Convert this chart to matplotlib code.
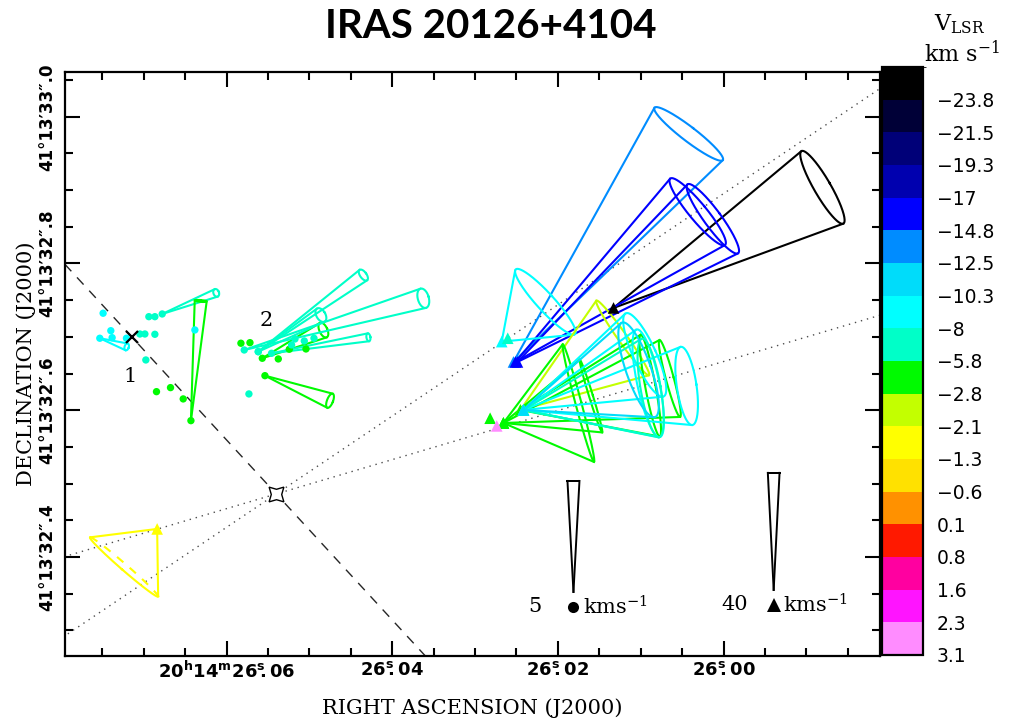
import numpy as np
import matplotlib
matplotlib.use("Agg")
import matplotlib.pyplot as plt
from matplotlib.colors import ListedColormap, BoundaryNorm
from matplotlib.cm import ScalarMappable

plt.rcParams['mathtext.fontset'] = 'custom'
plt.rcParams['mathtext.rm'] = 'DejaVu Serif'
plt.rcParams['mathtext.it'] = 'DejaVu Serif:italic'
plt.rcParams['mathtext.bf'] = 'DejaVu Sans:bold'

# offsets in mas: x east of RA 20h14m26.00s, y north of Dec 41d13'32.4"
MAS_PER_SEC = 11283.0   # 1 s of RA at this Dec

# colour scale (V_LSR, km/s)
vlsr_bounds = [-26.0, -23.8, -21.5, -19.3, -17, -14.8, -12.5, -10.3, -8, -5.8,
               -2.8, -2.1, -1.3, -0.6, 0.1, 0.8, 1.6, 2.3, 3.1]
vlsr_colors = ['#000000', '#000037', '#000078', '#0000af', '#0000ff', '#008cff',
               '#00dcfa', '#00ffff', '#00ffc8', '#00fa00', '#c3ff00', '#ffff00',
               '#ffe100', '#ff9100', '#ff1900', '#ff00a0', '#ff14ff', '#ff8cff']

# water maser spots (circles); proper motion ve, vn, vz and cone radius dv in km/s
h2o_x = [845.1, 834.6, 849.6, 832.8, 813.3, 795.0, 788.2, 774.6, 786.9, 782.8, 774.6,
         764.6, 720.1, 772.4, 753.3, 736.0, 725.5, 657.4, 645.1, 628.3, 606.5, 591.5,
         568.8, 624.7, 652.9, 633.8, 633.8, 615.7, 588.4, 583.8, 571.1, 557.9, 646.5]
h2o_y = [332.2, 308.4, 298.1, 298.9, 298.1, 303.9, 303.9, 303.5, 268.5, 327.5, 327.5,
         331.2, 309.4, 225.3, 230.8, 215.4, 185.8, 291.3, 292.1, 270.8, 269.9, 283.1,
         283.5, 247.1, 282.1, 279.8, 279.8, 277.6, 289.0, 297.1, 294.4, 298.1, 222.2]
h2o_vlsr = [-9, -9, -9, -9, -9, -7, -7, -7, -7, -7, -7,
            -7, -9, -4, -4, -4, -4, -4, -4, -4, -4, -4,
            -4, -4, -7, -7, -7, -7, -7, -7, -7, -7, -7]
nan = np.nan
h2o_ve = [nan, nan, -1.21, nan, nan, nan, nan, nan, nan, nan, nan,
          -2.43, nan, nan, nan, nan, -0.44, nan, nan, -2.75, nan, nan,
          nan, -2.93, -8.06, -4.73, -2.82, -4.36, nan, nan, nan, nan, nan]
h2o_vn = [nan, nan, -0.39, nan, nan, nan, nan, nan, nan, nan, nan,
          0.95, nan, nan, nan, nan, 5.39, nan, nan, 1.27, nan, nan,
          nan, -1.13, 2.33, 3.45, 1.65, 0.72, nan, nan, nan, nan, nan]
h2o_vz = [nan, nan, 0.95, nan, nan, nan, nan, nan, nan, nan, nan,
          2.56, nan, nan, nan, nan, 0.82, nan, nan, 1.75, nan, nan,
          nan, 1.37, 5.53, 3.38, 2.45, 2.55, nan, nan, nan, nan, nan]
h2o_dv = [nan, nan, 0.16, nan, nan, nan, nan, nan, nan, nan, nan,
          0.18, nan, nan, nan, nan, 0.27, nan, nan, 0.36, nan, nan,
          nan, 0.34, 0.45, 0.29, 0.34, 0.18, nan, nan, nan, nan, nan]

# methanol maser spots (triangles)
ch3oh_x = [149.9, 286.2, 283.5, 280.8, 302.2, 294.0, 276.7, 299.9, 299.9, 299.9,
           276.7, 272.6, 272.6, 272.6, 272.6, 272.6, 318.0, 309.0, 771.5]
ch3oh_y = [339.4, 265.8, 265.8, 265.8, 293.5, 298.1, 200.4, 182.6, 182.6, 182.6,
           200.4, 200.4, 200.4, 200.4, 200.4, 200.4, 189.1, 178.6, 38.2]
ch3oh_vlsr = [-25, -13.6, -16, -16, -9, -7, -2.5, -4, -4, -4,
              -4, -9, -9, -9, -7, -11.4, -4, 2.7, -1.7]
ch3oh_ve = [-71.3, -59.8, -62.2, -66.7, -14.9, nan, -34.9, -25.6, -29.9, -56.8,
            -44.3, -41.4, -42.6, -55.7, -43.4, -39.3, nan, nan, 11.3]
ch3oh_vn = [41.2, 77.9, 51.3, 48.9, 13.6, nan, 24.6, 6.8, 9.2, 15.2,
            8.3, 18.8, 9.1, 8.2, 7.5, 13.7, nan, nan, -13.0]
ch3oh_vz = [16.8, 16.9, 16.5, 16.9, 4.1, nan, 4.3, 1.3, 1.6, 5.9,
            4.5, 11.7, 8.9, 14.5, 9.0, 10.7, nan, nan, 1.2]
ch3oh_dv = [14.3, 14.7, 14.7, 14.6, 15.0, nan, 15.6, 20.8, 13.0, 13.6,
            17.7, 15.6, 18.8, 13.5, 17.1, 17.1, nan, nan, 15.4]
ch3oh_hidden = [False] * 18 + [True]

# scales: mas of arrow per km/s
h2o_scale = 30.26
ch3oh_scale = 3.99

# protostar and outflow/disk directions (position angles, deg)
star_x, star_y = 609.3, 85.9
dotted_pa = [123.9, 106.5]
dashed_pa = 42.6
cross_x, cross_y = 805.5, 299.5
group_labels = ['1', '2']
group_x = [808.3, 622.9]
group_y = [245.3, 321.7]

ref_speed = [5, 40]

cmap = ListedColormap(vlsr_colors)
norm = BoundaryNorm(vlsr_bounds, cmap.N)


def draw_cone(ax, x0, y0, ve, vn, vz, dv, scale, color, hidden=False, lw=1.5):
    dx, dy = ve * scale, vn * scale
    L = np.hypot(dx, dy)
    V = np.sqrt(ve**2 + vn**2 + vz**2)
    e = abs(vz) / V
    b = dv * scale
    a = b * e
    ux, uy = dx / L, dy / L
    wx, wy = -uy, ux
    cx, cy = x0 + dx, y0 + dy
    t = np.linspace(0, 2 * np.pi, 300)
    ex = cx + a * np.cos(t) * ux + b * np.sin(t) * wx
    ey = cy + a * np.cos(t) * uy + b * np.sin(t) * wy
    if L > a:
        ut = -a**2 / L
        wt = b * np.sqrt(1 - (a / L)**2)
        for s in (1, -1):
            px = cx + ut * ux + s * wt * wx
            py = cy + ut * uy + s * wt * wy
            ax.plot([x0, px], [y0, py], color=color, lw=lw, zorder=3)
        if hidden and a > 0:
            # back half of the base hidden -> dashed
            near = np.cos(t) < -a / L
            ax.plot(np.where(near, np.nan, ex), np.where(near, np.nan, ey),
                    color=color, lw=lw, zorder=3)
            ax.plot(np.where(near, ex, np.nan), np.where(near, ey, np.nan),
                    color=color, lw=lw, ls=(0, (4, 4)), zorder=3)
            return
    ax.plot(ex, ey, color=color, lw=lw, zorder=3)


fig = plt.figure(figsize=(10.17, 7.22), dpi=100)
ax = fig.add_axes([65 / 1017, 66 / 722, 815 / 1017, 584 / 722])
ax.set_xlim(897, -213)
ax.set_ylim(-135, 661)

# reference lines through the protostar
far = 3000
for pa in dotted_pa:
    sx, sy = np.sin(np.radians(pa)), np.cos(np.radians(pa))
    ax.plot([star_x - far * sx, star_x + far * sx], [star_y - far * sy, star_y + far * sy],
            color='0.3', lw=1.0, ls=(0, (1, 3.5)), zorder=1)
sx, sy = np.sin(np.radians(dashed_pa)), np.cos(np.radians(dashed_pa))
ax.plot([star_x - far * sx, star_x + far * sx], [star_y - far * sy, star_y + far * sy],
        color='0.15', lw=1.0, ls=(0, (7, 6)), zorder=1)
ax.plot(star_x, star_y, marker=(4, 1, 45), ms=15, mfc='white', mec='black', mew=1.0, zorder=4)

# cones
for i in range(len(h2o_x)):
    if not np.isnan(h2o_ve[i]):
        draw_cone(ax, h2o_x[i], h2o_y[i], h2o_ve[i], h2o_vn[i], h2o_vz[i], h2o_dv[i],
                  h2o_scale, cmap(norm(h2o_vlsr[i])))
for i in range(len(ch3oh_x)):
    if not np.isnan(ch3oh_ve[i]):
        draw_cone(ax, ch3oh_x[i], ch3oh_y[i], ch3oh_ve[i], ch3oh_vn[i], ch3oh_vz[i],
                  ch3oh_dv[i], ch3oh_scale, cmap(norm(ch3oh_vlsr[i])), hidden=ch3oh_hidden[i])

ax.scatter(h2o_x, h2o_y, c=h2o_vlsr, cmap=cmap, norm=norm, s=28, marker='o',
           linewidths=0, zorder=5)
ax.scatter(ch3oh_x, ch3oh_y, c=ch3oh_vlsr, cmap=cmap, norm=norm, s=70, marker='^',
           linewidths=0, zorder=5)

ax.plot(cross_x, cross_y, marker='x', ms=8, mew=1.6, color='black', zorder=6)
for lab, gx, gy in zip(group_labels, group_x, group_y):
    ax.text(gx, gy, lab, fontsize=15, family='DejaVu Serif', ha='center', va='center')

# scale cones
ref_x = [204.5, -68.2]
ref_y = [-47.7, -45.0]
ref_dv = [0.27, 2.0]
ref_sc = [h2o_scale, ch3oh_scale]
ref_mk = ['o', '^']
for sp, rx, ry, rdv, sc, mk in zip(ref_speed, ref_x, ref_y, ref_dv, ref_sc, ref_mk):
    draw_cone(ax, rx, ry, 0.0, sp, 0.0, rdv, sc, 'black', lw=1.4)
    ax.text(rx + 53, ry - 20, str(sp), fontsize=15,
            family='DejaVu Serif', ha='center', va='center')
    ax.plot(rx, ry - 21, marker=mk, ms=8 if mk == 'o' else 10, color='black', mew=0)
    ax.text(rx - 13, ry - 20, r'kms$^{-1}$', fontsize=15, family='DejaVu Serif',
            ha='left', va='center')

# axes formatting
ra_ticks = [26.06, 26.04, 26.02, 26.00]
ra_labels = [r'$\mathbf{20^{h}14^{m}26^{s}\!\!.06}$', r'$\mathbf{26^{s}\!\!.04}$',
             r'$\mathbf{26^{s}\!\!.02}$', r'$\mathbf{26^{s}\!\!.00}$']
dec_ticks = [32.4, 32.6, 32.8, 33.0]
dec_labels = ["41°13′32″.4", "41°13′32″.6", "41°13′32″.8", "41°13′33″.0"]

ax.set_xticks([(r - 26.0) * MAS_PER_SEC for r in ra_ticks])
ax.set_xticklabels(ra_labels, fontsize=13)
ax.set_xticks(np.arange(-0.015, 0.08, 0.005) * MAS_PER_SEC, minor=True)
ax.set_yticks([(d - 32.4) * 1000 for d in dec_ticks])
ax.set_yticklabels(dec_labels, rotation=90, va='center', fontsize=12, fontweight='bold')
ax.set_yticks(np.arange(-100, 700, 50), minor=True)
ax.tick_params(which='both', direction='in', top=True, right=True, width=1.5)
ax.tick_params(which='major', length=11)
ax.tick_params(which='minor', length=6)
ax.tick_params(axis='y', pad=6)
for s in ax.spines.values():
    s.set_linewidth(1.6)
ax.set_xlabel('RIGHT ASCENSION (J2000)', family='DejaVu Serif', fontsize=15, labelpad=12)
ax.set_ylabel('DECLINATION (J2000)', family='DejaVu Serif', fontsize=15, labelpad=2)

fig.text(491 / 1017, 1 - 27 / 722, 'IRAS 20126+4104', fontsize=29, fontweight='bold',
         family='Lato', ha='center', va='center')

# colour bar
cax = fig.add_axes([882 / 1017, 67 / 722, 41 / 1017, 588 / 722])
cb = fig.colorbar(ScalarMappable(norm=norm, cmap=cmap), cax=cax, spacing='uniform',
                  drawedges=True)
cax.invert_yaxis()
cb.set_ticks(vlsr_bounds[1:])
cb.set_ticklabels([('%g' % v).replace('-', '\u2212') for v in vlsr_bounds[1:]])
cax.tick_params(length=0, labelsize=13.5, pad=10)
cb.outline.set_linewidth(1.6)
cb.dividers.set_linewidth(1.6)
fig.text(960 / 1017, 1 - 24 / 722, r'V$_{\rm LSR}$', fontsize=16, family='DejaVu Serif',
         ha='center', va='center')
fig.text(962 / 1017, 1 - 54 / 722, r'km s$^{-1}$', fontsize=16, family='DejaVu Serif',
         ha='center', va='center')

fig.savefig('out.png', dpi=100)
